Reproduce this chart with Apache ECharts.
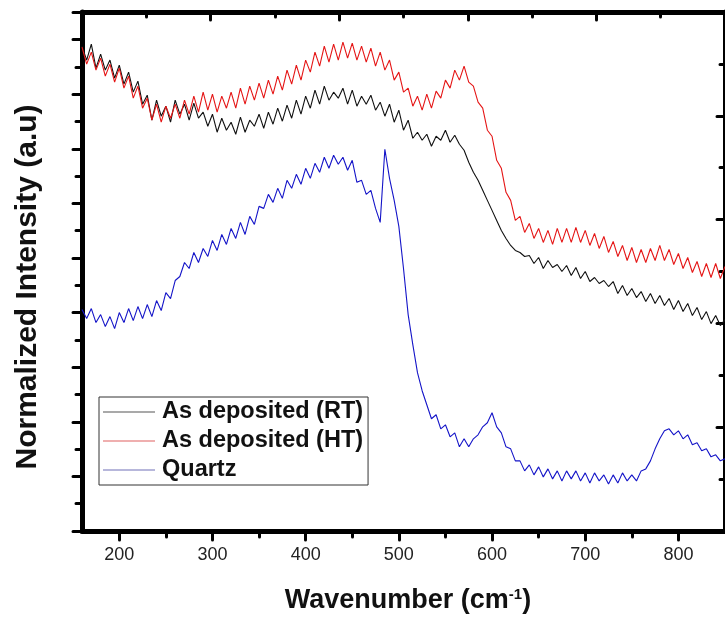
<!DOCTYPE html>
<html><head><meta charset="utf-8">
<script src="https://cdn.jsdelivr.net/npm/echarts@6/dist/echarts.min.js"></script>
<style>html,body{margin:0;padding:0;background:#fff}#c{width:725px;height:617px}</style>
</head><body><div id="c"></div>
<script>
// Wavenumber grid of the sampled points (cm^-1)
const waveStart = 160, waveStep = 5;
const xTickLabels = [200, 300, 400, 500, 600, 700, 800];
const xMinorTicks = [250, 350, 450, 550, 650, 750];
const seriesNames = ['As deposited (RT)', 'As deposited (HT)', 'Quartz'];

// Normalized intensity (a.u.), 160..850 step 5
const rtValues = [
  484, 470, 486, 462, 476, 460, 470, 452,
  465, 446, 458, 438, 449, 426, 435, 410, 430, 414, 424, 408, 430, 416, 426, 410, 427, 412, 418, 404,
  416, 398, 412, 400, 408, 396, 413, 398, 410, 404, 416, 402, 418, 406, 422, 409, 425, 412, 430, 416,
  434, 422, 440, 426, 444, 430, 438, 432, 442, 426, 440, 424, 434, 426, 435, 420, 428, 414, 426, 408,
  420, 400, 410, 392, 398, 390, 396, 384, 394, 390, 400, 388, 395, 386, 380, 368, 358, 350, 340, 330,
  320, 310, 300, 292, 285, 280, 278, 274, 275, 267, 273, 262, 270, 263, 266, 259, 265, 255, 263, 252,
  259, 249, 253, 247, 250, 244, 249, 237, 245, 235, 242, 233, 239, 229, 237, 227, 235, 225, 232, 221,
  230, 219, 227, 215, 223, 211, 219, 207, 215, 205, 211
];
const htValues = [
  483, 466, 478, 460, 472, 454, 466, 448,
  462, 442, 454, 432, 444, 422, 432, 410, 426, 408, 424, 412, 426, 412, 430, 416, 434, 418, 438, 420,
  436, 418, 434, 422, 438, 422, 442, 426, 444, 430, 447, 432, 450, 436, 454, 440, 460, 446, 465, 450,
  470, 458, 478, 464, 484, 468, 486, 470, 488, 472, 487, 470, 484, 468, 482, 464, 478, 460, 470, 450,
  458, 438, 442, 424, 434, 420, 436, 422, 439, 432, 450, 442, 460, 450, 464, 448, 444, 428, 422, 400,
  394, 370, 362, 338, 330, 310, 314, 298, 307, 292, 302, 288, 300, 286, 302, 288, 302, 288, 303, 288,
  300, 285, 297, 282, 294, 278, 289, 274, 285, 270, 283, 268, 281, 268, 282, 270, 285, 270, 281, 266,
  277, 262, 273, 258, 269, 254, 267, 253, 267, 252, 264
];
const quartzValues = [
  221, 212, 222, 208, 216, 204, 214, 202,
  218, 208, 222, 210, 224, 212, 226, 214, 230, 220, 238, 232, 250, 254, 268, 262, 278, 268, 282, 274,
  290, 280, 296, 286, 302, 292, 308, 296, 314, 306, 324, 322, 336, 328, 342, 332, 350, 342, 356, 346,
  362, 352, 367, 358, 373, 362, 375, 366, 373, 360, 370, 348, 350, 336, 340, 322, 308, 381, 352, 330,
  304, 262, 216, 186, 158, 140, 126, 112, 116, 102, 106, 94, 98, 84, 92, 84, 92, 96, 104, 108,
  118, 104, 98, 84, 82, 70, 70, 60, 66, 56, 64, 54, 62, 52, 60, 50, 60, 52, 60, 50,
  58, 48, 58, 50, 56, 47, 56, 48, 58, 50, 56, 50, 60, 62, 70, 82, 92, 100, 102, 96,
  100, 92, 96, 86, 88, 80, 82, 74, 76, 70, 72
];

function pairs(vals) { return vals.map((v, i) => [waveStart + i * waveStep, v]); }

const FONT = 'Liberation Sans, Arial, sans-serif';
const axisLineStyle = { color: '#000', width: 5 };
const tickStyle = { color: '#000', width: 3, cap: 'round' };
const lineColors = ['#111', '#e51515', '#1414c8'];
const legendColors = ['#555', '#e06060', '#7070b8'];

const chart = echarts.init(document.getElementById('c'), null, { renderer: 'canvas' });
chart.setOption({
  animation: false,
  backgroundColor: '#fff',
  grid: { left: 82, right: -6, top: 12, bottom: 86, containLabel: false },
  xAxis: [
    {
      type: 'value', position: 'bottom', min: 160, max: 850,
      axisLine: { show: true, lineStyle: axisLineStyle },
      axisTick: { show: true, inside: false, length: 9, lineStyle: tickStyle, customValues: xTickLabels },
      axisLabel: { show: true, customValues: xTickLabels, color: '#222', fontSize: 18, fontFamily: FONT, margin: 15 },
      splitLine: { show: false }
    },
    {
      type: 'value', position: 'bottom', min: 160, max: 850,
      axisLine: { show: false },
      axisTick: { show: true, inside: false, length: 6, lineStyle: tickStyle, customValues: xMinorTicks },
      axisLabel: { show: false },
      splitLine: { show: false }
    },
    {
      type: 'value', position: 'top', min: 0, max: 10, interval: 2,
      axisLine: { show: true, lineStyle: axisLineStyle },
      axisTick: { show: true, inside: true, length: 8, lineStyle: tickStyle },
      minorTick: { show: true, splitNumber: 2, length: 5, lineStyle: tickStyle },
      axisLabel: { show: false },
      splitLine: { show: false }
    }
  ],
  yAxis: [
    {
      type: 'value', position: 'left', min: 0, max: 518, interval: 54.5,
      axisLine: { show: true, lineStyle: axisLineStyle },
      axisTick: { show: true, inside: false, length: 9, lineStyle: tickStyle },
      minorTick: { show: true, splitNumber: 2, length: 6, lineStyle: tickStyle },
      axisLabel: { show: false },
      splitLine: { show: false }
    },
    {
      type: 'value', position: 'right', min: 0, max: 5, interval: 1,
      axisLine: { show: true, lineStyle: axisLineStyle },
      axisTick: { show: true, inside: true, length: 8, lineStyle: tickStyle },
      minorTick: { show: true, splitNumber: 2, length: 5, lineStyle: tickStyle },
      axisLabel: { show: false },
      splitLine: { show: false }
    }
  ],
  legend: {
    orient: 'vertical', left: 99, top: 397,
    backgroundColor: '#fff', borderColor: '#333', borderWidth: 1,
    padding: [3, 5, 3, 4], itemGap: 5, itemWidth: 52, itemHeight: 1.2, icon: 'rect',
    textStyle: { fontSize: 23.5, fontWeight: 'bold', fontFamily: FONT, color: '#111', padding: [0, 0, 0, 2] },
    data: seriesNames.map((n, i) => ({ name: n, itemStyle: { color: legendColors[i] } }))
  },
  series: seriesNames.map((n, i) => ({
    name: n, type: 'line', symbol: 'none', xAxisIndex: 0, yAxisIndex: 0,
    data: pairs([rtValues, htValues, quartzValues][i]),
    lineStyle: { color: lineColors[i], width: 1.1 }, itemStyle: { color: lineColors[i] }
  })),
  graphic: [
    {
      type: 'text', x: 28, y: 287, rotation: Math.PI / 2,
      style: { text: 'Normalized Intensity (a.u)', font: 'bold 30px ' + FONT, fill: '#111', align: 'center', verticalAlign: 'middle' }
    },
    {
      type: 'text', x: 408, y: 601,
      style: {
        text: '{a|Wavenumber (cm}{s|-1}{a|)}', fill: '#111', align: 'center', verticalAlign: 'middle',
        rich: {
          a: { fontSize: 27, fontWeight: 'bold', fontFamily: FONT, fill: '#111', verticalAlign: 'bottom' },
          s: { fontSize: 15, fontWeight: 'bold', fontFamily: FONT, fill: '#111', verticalAlign: 'top' }
        }
      }
    }
  ]
});
</script>
</body></html>
